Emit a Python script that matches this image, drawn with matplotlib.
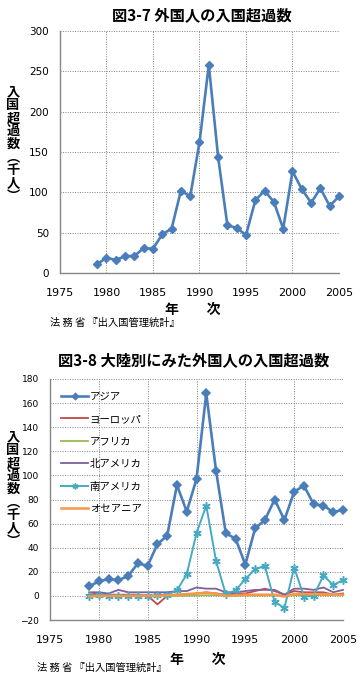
import numpy as np
import matplotlib
matplotlib.use("Agg")
import matplotlib.pyplot as plt

plt.rcParams['font.family'] = ['Noto Sans CJK JP', 'DejaVu Sans']

years = list(range(1979, 2006))

# fig 3-7 total net entry (thousand)
total = [11, 19, 16, 21, 21, 31, 30, 48, 55, 102, 95, 162, 258, 144, 59, 56, 47,
         90, 102, 88, 55, 126, 104, 87, 105, 83, 95]

# fig 3-8 by continent
asia = [8, 12, 14, 13, 16.5, 27, 25, 43, 50, 92, 70, 97, 168, 104, 52, 47.5, 26,
        56, 63, 80, 63, 86.5, 91.5, 76, 75, 69.5, 71.5]
europe = [1, 2, 1, 1, 1, 1, 0, -7, 0, 1, 1, 2, 3, 2, 1, 2, 2,
          4, 6, 4, 1, 4, 3, 3, 3, 1, 2]
africa = [0, 0, 0, 0, 0, 0, 0, 0, 0, 0, 0.2, 0.3, 0.5, 0.5, 0.3, 0.3, 0.3,
          0.3, 0.3, 0.3, 0.2, 0.5, 0.5, 0.5, 0.5, 0.5, 0.5]
n_america = [3, 3, 2, 5, 3, 3, 3, 3, 3, 4, 4, 7, 6, 6, 3, 3, 4,
             5, 5, 5, 1, 6, 6, 5, 7, 3, 5]
s_america = [0, 1, 0, 0, 0, 0, 0, 0.5, 1, 4.5, 18, 52, 75, 29, 1.5, 4.5, 14,
             22, 25, -5, -10, 23.5, -0.5, 0, 17, 9, 13]
oceania = [-0.5, 0, 0, 0, 0, 0, 0, 0, 0.5, 1, 1.5, 2, 2.5, 2, 0, 0.5, 1,
           1, 1, 1, -0.5, 1.5, 1.5, 1.5, 1.5, 1, 1]

series = [
    ("アジア", asia, "#4A7EBB", "D", 1.9),
    ("ヨーロッパ", europe, "#BE4B48", None, 1.3),
    ("アフリカ", africa, "#98B954", None, 1.3),
    ("北アメリカ", n_america, "#7D60A0", None, 1.3),
    ("南アメリカ", s_america, "#46AAC5", (6, 2, 0), 1.4),
    ("オセアニア", oceania, "#F79646", None, 1.8),
]

ylabel = "\n".join("入国超過数︵千人︶")
source = "法 務 省 『出入国管理統計』"

W, H = 361, 681
fig = plt.figure(figsize=(W / 100, H / 100), dpi=100)


def style_axes(ax, ylim, yticks, ysize):
    ax.set_xlim(1975, 2005)
    ax.set_ylim(*ylim)
    ax.set_xticks(range(1975, 2006, 5))
    ax.set_yticks(yticks)
    ax.grid(True, color="#808080", linestyle=(0, (1, 1.5)), linewidth=0.7)
    ax.set_axisbelow(True)
    for s in ("top", "right"):
        ax.spines[s].set_visible(False)
    for s in ("left", "bottom"):
        ax.spines[s].set_color("#868686")
        ax.spines[s].set_linewidth(1.0)
    ax.tick_params(axis="x", length=0, pad=11, labelsize=8)
    ax.tick_params(axis="y", length=0, pad=8, labelsize=ysize)
    for lab in ax.get_xticklabels() + ax.get_yticklabels():
        lab.set_family("DejaVu Sans")


# ---- top chart
ax1 = fig.add_axes([60 / W, 1 - 273 / H, 279 / W, 242 / H])
ax1.plot(years, total, color="#4A7EBB", lw=1.9, marker="D", ms=4.5, clip_on=False)
style_axes(ax1, (0, 300), range(0, 301, 50), 7.5)
fig.text(202 / W, 1 - 15 / H, "図3-7 外国人の入国超過数", fontsize=11, fontweight="bold",
         ha="center", va="center")
fig.text(193 / W, 1 - 310 / H, "年　　次", fontsize=10, fontweight="bold",
         ha="center", va="center")
fig.text(50 / W, 1 - 323 / H, source, fontsize=7.4, ha="left", va="center")
fig.text(13 / W, 1 - 144 / H, ylabel, fontsize=9.5, fontweight="bold",
         ha="center", va="center", linespacing=0.9)

# ---- bottom chart
ax2 = fig.add_axes([50 / W, 1 - 620 / H, 293 / W, 241 / H])
for name, vals, col, mk, lw in series:
    ax2.plot(years, vals, color=col, lw=lw, marker=mk, ms=4.5 if mk == "D" else 6,
             mew=1.1, label=name, clip_on=False)
style_axes(ax2, (-20, 180), range(-20, 181, 20), 6.5)
leg = ax2.legend(loc="upper left", bbox_to_anchor=(0.025, 0.965), frameon=False,
                 fontsize=7.5, handlelength=2.5, handletextpad=0.2, labelspacing=1.2,
                 borderaxespad=0, markerscale=0.7)
fig.text(194 / W, 1 - 360 / H, "図3-8 大陸別にみた外国人の入国超過数", fontsize=11,
         fontweight="bold", ha="center", va="center")
fig.text(198 / W, 1 - 660 / H, "年　　次", fontsize=10, fontweight="bold",
         ha="center", va="center")
fig.text(37 / W, 1 - 668 / H, source, fontsize=7.4, ha="left", va="center")
fig.text(13 / W, 1 - 489 / H, ylabel, fontsize=9.5, fontweight="bold",
         ha="center", va="center", linespacing=0.9)

fig.savefig("out.png", dpi=100, facecolor="white")
